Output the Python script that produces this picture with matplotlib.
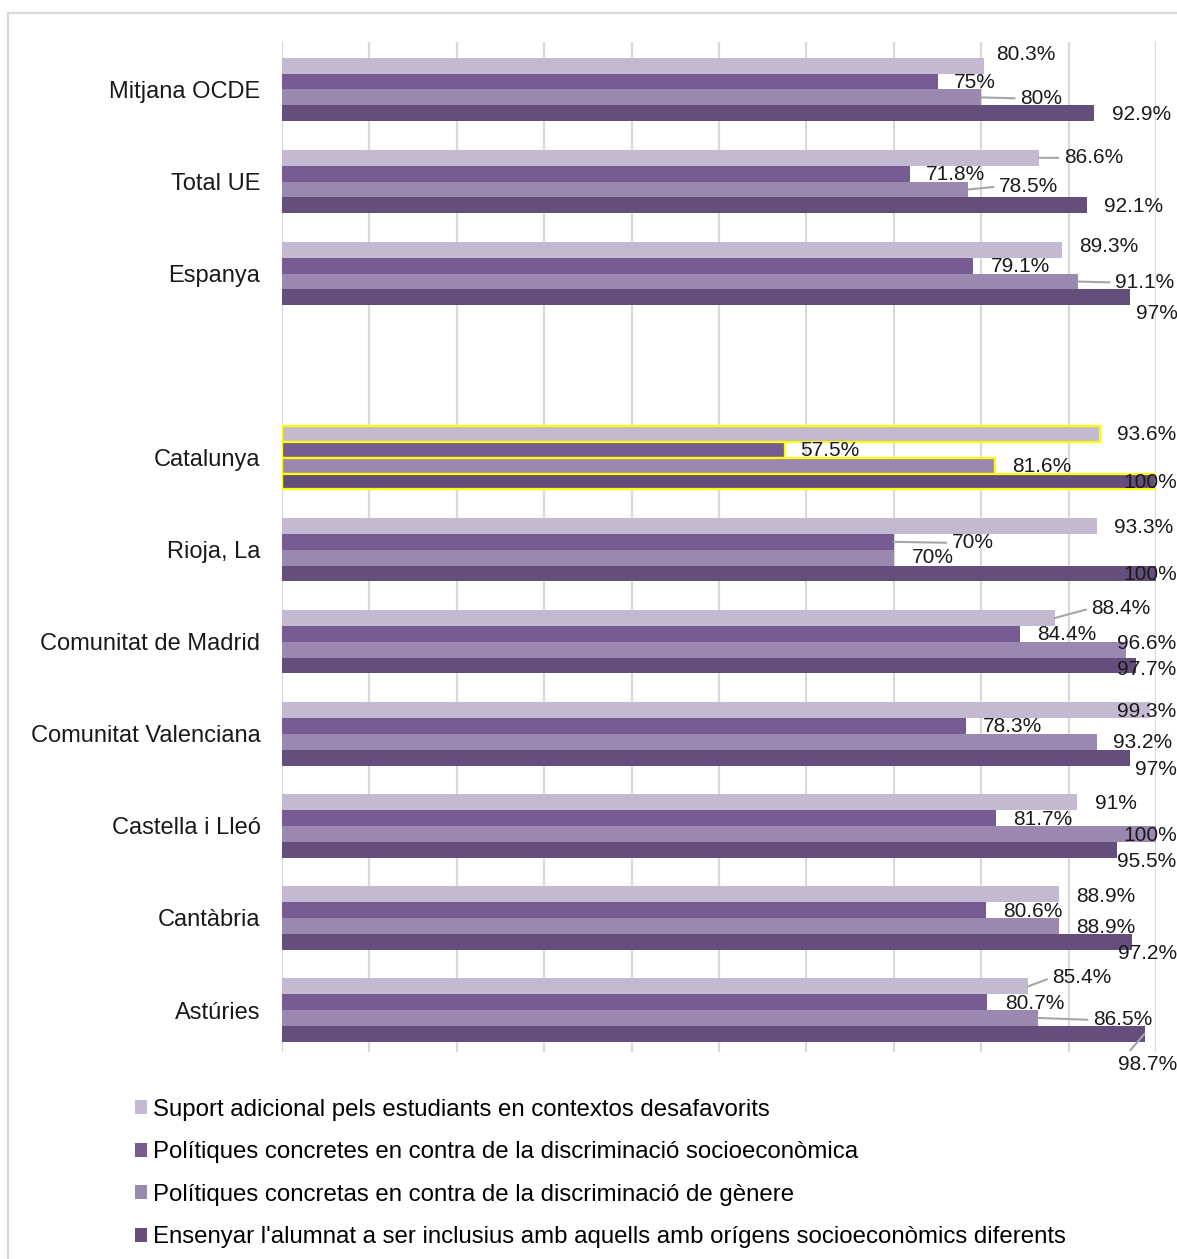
import numpy as np
import matplotlib
matplotlib.use("Agg")
import matplotlib.pyplot as plt
from matplotlib.patches import Patch, Rectangle

plt.rcParams['font.family'] = ['Liberation Sans', 'DejaVu Sans']

categories = ["Mitjana OCDE", "Total UE", "Espanya", "Catalunya", "Rioja, La",
              "Comunitat de Madrid", "Comunitat Valenciana", "Castella i Lleó",
              "Cantàbria", "Astúries"]
series_names = [
    "Suport adicional pels estudiants en contextos desafavorits",
    "Polítiques concretes en contra de la discriminació socioeconòmica",
    "Polítiques concretas en contra de la discriminació de gènere",
    "Ensenyar l'alumnat a ser inclusius amb aquells amb orígens socioeconòmics diferents",
]
suport = [80.3, 86.6, 89.3, 93.6, 93.3, 88.4, 99.3, 91, 88.9, 85.4]
discr_socio = [75, 71.8, 79.1, 57.5, 70, 84.4, 78.3, 81.7, 80.6, 80.7]
discr_genere = [80, 78.5, 91.1, 81.6, 70, 96.6, 93.2, 100, 88.9, 86.5]
inclusius = [92.9, 92.1, 97, 100, 100, 97.7, 97, 95.5, 97.2, 98.7]
series = [suport, discr_socio, discr_genere, inclusius]

colors = ["#C3B9D0", "#775C94", "#9A88B1", "#634E7C"]
highlight = "Catalunya"

# label placement offsets in pixels (dx from bar end, dy upward), per category per series
label_offsets = [
    [(12, 11), (16, -1), (39, -1), (18, -1)],
    [(25, 0), (16, -1), (31, 3), (17, -1)],
    [(17, 3), (18, -1), (37, -1), (6, -16)],
    [(17, -1), (16, -1), (17, -1), (-33, -1)],
    [(17, -1), (58, -1), (18, 0), (-33, -1)],
    [(37, 10), (17, -1), (-9, 6), (-19, -4)],
    [(-33, -1), (17, -1), (16, -1), (5, -12)],
    [(18, -1), (17, -1), (-33, -2), (0, -12)],
    [(17, -2), (17, -1), (17, -2), (-14, -12)],
    [(24, 9), (18, -1), (55, -2), (-27, -31)],
]
leaders = {(0, 2), (1, 0), (1, 2), (2, 2), (4, 1), (5, 0), (9, 0), (9, 2), (9, 3)}

W, H = 1177, 1259
fig = plt.figure(figsize=(W / 100, H / 100), dpi=100)
ax = fig.add_axes([282 / W, 1 - 1052 / H, (1156 - 282) / W, (1052 - 42) / H])

n = len(categories)
idx = np.arange(n)
ypos = idx + (idx >= 3)  # blank slot between Espanya and Catalunya
h = 0.172
offs = np.array([-1.5, -0.5, 0.5, 1.5]) * h

for s, vals in enumerate(series):
    yb = ypos + offs[s]
    edge = ["#FFFF00" if c == highlight else "none" for c in categories]
    lw = [1.6 if c == highlight else 0 for c in categories]
    ax.barh(yb, vals, height=h, color=colors[s], edgecolor=edge, linewidth=lw,
            label=series_names[s], zorder=3)
    for i, v in enumerate(vals):
        dx, dy = label_offsets[i][s]
        kw = {}
        if (i, s) in leaders:
            kw['arrowprops'] = dict(arrowstyle='-', color='#A6A6A6', lw=1.5,
                                    shrinkA=2, shrinkB=0, relpos=(0, 0.5))
        ax.annotate(f"{v:g}%", xy=(v, yb[i]), xytext=(dx, dy),
                    textcoords='offset pixels', ha='left', va='center',
                    fontsize=15, color='#1a1a1a', zorder=5,
                    annotation_clip=False, **kw)

ax.set_xlim(0, 100)
ax.set_ylim(10.456, -0.516)
ax.set_xticks(np.arange(0, 101, 10))
ax.set_xticklabels([])
ax.set_yticks(ypos)
ax.set_yticklabels(categories, fontsize=17, color='#1a1a1a')
ax.tick_params(axis='both', length=0)
ax.tick_params(axis='y', pad=15.5)
ax.grid(axis='x', color='#D9D9D9', linewidth=1.6, zorder=0)
ax.set_axisbelow(True)
for sp in ax.spines.values():
    sp.set_visible(False)

handles = [Patch(facecolor=c, edgecolor='none') for c in colors]
fig.legend(handles, series_names, loc='upper left',
           bbox_to_anchor=(125 / W, 1 - 1089 / H), frameon=False,
           fontsize=17.25, handlelength=0.5, handleheight=0.5,
           handletextpad=0.25, labelspacing=0.86, borderaxespad=0)

fig.patches.append(Rectangle((8 / W, -0.05), 1.2, 1 - 13 / H + 0.05,
                             transform=fig.transFigure, fill=False,
                             edgecolor='#D9D9D9', linewidth=1.6))

fig.savefig("out.png", dpi=100, facecolor='white')
